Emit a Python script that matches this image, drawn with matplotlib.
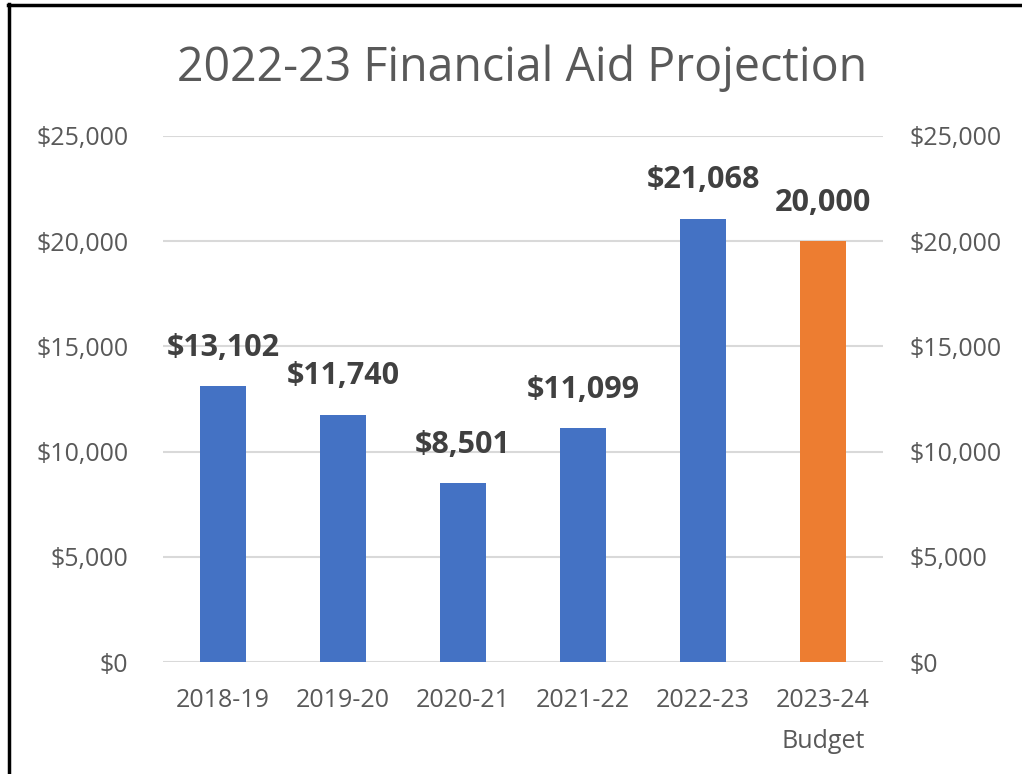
import matplotlib
matplotlib.use("Agg")
import matplotlib.pyplot as plt
from matplotlib.lines import Line2D
from matplotlib.ticker import FuncFormatter

categories = ["2018-19", "2019-20", "2020-21", "2021-22", "2022-23", "2023-24\nBudget"]
values = [13102, 11740, 8501, 11099, 21068, 20000]
labels = ["$13,102", "$11,740", "$8,501", "$11,099", "$21,068", "20,000"]
colors = ["#4472C4"] * 5 + ["#ED7D31"]
yticks = [0, 5000, 10000, 15000, 20000, 25000]

plt.rcParams['font.family'] = ['Open Sans', 'DejaVu Sans']

fig = plt.figure(figsize=(10.22, 7.74), dpi=100)
# frame: top and left borders only
fig.lines.append(Line2D([7.5/1022, 1.0], [1 - 4.5/774, 1 - 4.5/774],
                        transform=fig.transFigure, color="black", linewidth=2.5))
fig.lines.append(Line2D([8.5/1022, 8.5/1022], [0, 1 - 3.5/774],
                        transform=fig.transFigure, color="black", linewidth=2.5))

ax = fig.add_axes([163/1022, 1 - 662/774, (883-163)/1022, (662-136)/774])

x = list(range(len(categories)))
ax.bar(x, values, width=0.39, color=colors, zorder=3)
ax.set_xlim(-0.5, len(categories) - 0.5)
ax.set_ylim(0, 25000)
ax.set_yticks(yticks)
fmt = FuncFormatter(lambda v, p: "${:,.0f}".format(v))
ax.yaxis.set_major_formatter(fmt)
ax.grid(axis="y", color="#D9D9D9", linewidth=1.5, zorder=0)
for s in ax.spines.values():
    s.set_visible(False)
ax.tick_params(axis="both", length=0, labelsize=18, labelcolor="#595959")
ax.tick_params(axis="y", pad=25)
ax.tick_params(axis="x", pad=19)
ax.set_xticks(x)
ax.set_xticklabels(categories, linespacing=1.8, multialignment="center")

ax2 = ax.twinx()
ax2.set_ylim(0, 25000)
ax2.set_yticks(yticks)
ax2.yaxis.set_major_formatter(fmt)
for s in ax2.spines.values():
    s.set_visible(False)
ax2.tick_params(axis="y", length=0, labelsize=18, labelcolor="#595959", pad=19)

for xi, v, lab in zip(x, values, labels):
    ax.annotate(lab, (xi, v), xytext=(0, 22), textcoords="offset points",
                ha="center", va="baseline", fontsize=22, fontweight="bold",
                color="#404040")

fig.text(522/1022, 1 - 68/774, "2022-23 Financial Aid Projection",
         ha="center", va="center", fontsize=33.5, color="#595959")

fig.savefig("out.png", dpi=100)
